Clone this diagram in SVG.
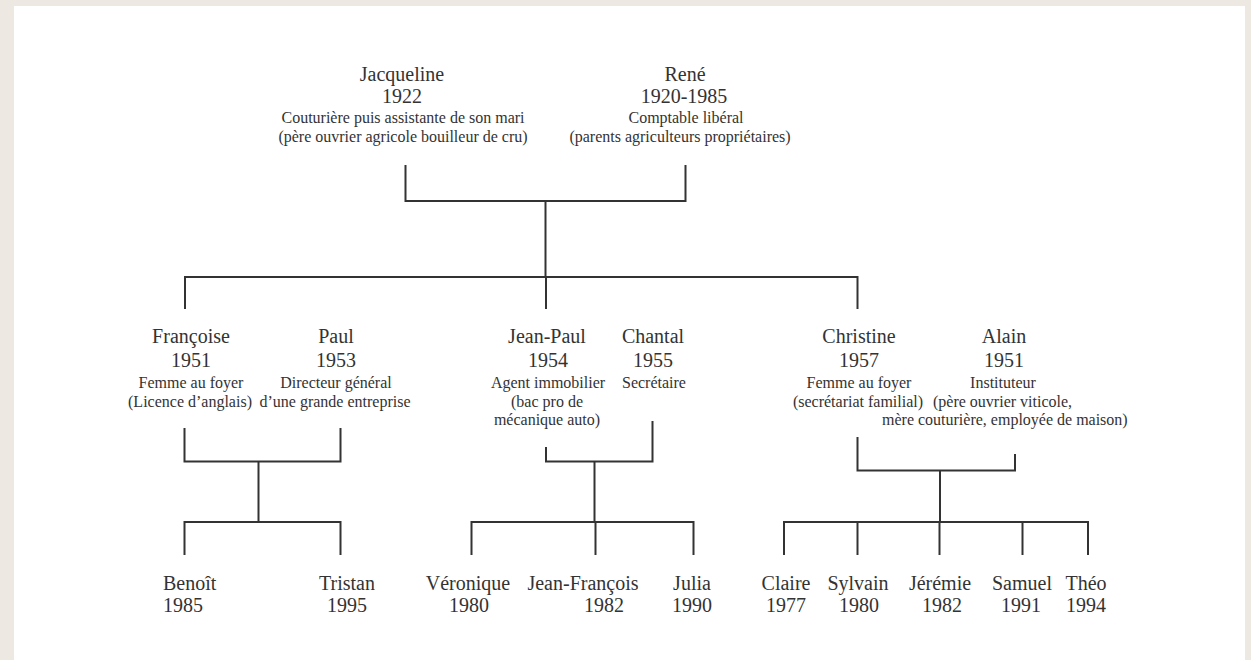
<svg xmlns="http://www.w3.org/2000/svg" width="1251" height="660" viewBox="0 0 1251 660">
<style>
.n{font-family:"Liberation Serif","Times New Roman",serif;font-size:20px;fill:#333;text-anchor:middle}
.s{font-family:"Liberation Serif","Times New Roman",serif;font-size:16px;fill:#333;text-anchor:middle}
.st{text-anchor:start}
.c path{fill:none;stroke:#333;stroke-width:2}
</style>
<rect x="0" y="0" width="1251" height="660" fill="#ede9e2"/>
<rect x="14" y="6" width="1231" height="654" fill="#ffffff"/>
<g class="c" id="connectors">
<path d="M405.5,165 V201 H685.5 V165"/>
<path d="M545.5,201 V277"/>
<path d="M185,277 H857.5"/>
<path d="M185,276 V309"/>
<path d="M546,277 V309"/>
<path d="M857.5,276 V309"/>
<path d="M184.5,428 V461.5 H340.5 V428"/>
<path d="M258.5,461.5 V522"/>
<path d="M184.5,555 V522 H340.5 V555"/>
<path d="M546,447 V461.5 H652.5 V421"/>
<path d="M594.5,461.5 V522"/>
<path d="M471.5,555 V522 H693.5 V555"/>
<path d="M595.5,522 V555"/>
<path d="M857.5,437 V470.5 H1015 V454"/>
<path d="M940,470.5 V522"/>
<path d="M784,555 V522 H1088 V555"/>
<path d="M857.5,522 V555"/>
<path d="M939.5,522 V555"/>
<path d="M1022.5,522 V555"/>
</g>
<g id="jacqueline">
<text class="n" x="402" y="81">Jacqueline</text>
<text class="n" x="402" y="103">1922</text>
<text class="s" x="403" y="123">Couturière puis assistante de son mari</text>
<text class="s" x="403" y="142">(père ouvrier agricole bouilleur de cru)</text>
</g>
<g id="rene">
<text class="n" x="685" y="81">René</text>
<text class="n" x="684" y="103">1920-1985</text>
<text class="s" x="686" y="123">Comptable libéral</text>
<text class="s" x="680" y="142">(parents agriculteurs propriétaires)</text>
</g>
<g id="francoise">
<text class="n" x="191" y="343">Françoise</text>
<text class="n" x="191" y="367">1951</text>
<text class="s" x="191" y="388">Femme au foyer</text>
<text class="s" x="190" y="407">(Licence d’anglais)</text>
</g>
<g id="paul">
<text class="n" x="336" y="343">Paul</text>
<text class="n" x="336" y="367">1953</text>
<text class="s" x="336" y="388">Directeur général</text>
<text class="s" x="335" y="407">d’une grande entreprise</text>
</g>
<g id="jeanpaul">
<text class="n" x="547" y="343">Jean-Paul</text>
<text class="n" x="548" y="367">1954</text>
<text class="s" x="548" y="388">Agent immobilier</text>
<text class="s" x="547" y="407">(bac pro de</text>
<text class="s" x="547" y="425">mécanique auto)</text>
</g>
<g id="chantal">
<text class="n" x="653" y="343">Chantal</text>
<text class="n" x="653" y="367">1955</text>
<text class="s" x="654" y="388">Secrétaire</text>
</g>
<g id="christine">
<text class="n" x="859" y="343">Christine</text>
<text class="n" x="859" y="367">1957</text>
<text class="s" x="859" y="388">Femme au foyer</text>
<text class="s" x="858" y="407">(secrétariat familial)</text>
</g>
<g id="alain">
<text class="n" x="1004" y="343">Alain</text>
<text class="n" x="1004" y="367">1951</text>
<text class="s" x="1003" y="388">Instituteur</text>
<text class="s st" x="933" y="407">(père ouvrier viticole,</text>
<text class="s st" x="882" y="425">mère couturière, employée de maison)</text>
</g>
<g id="benoit">
<text class="n st" x="163" y="590">Benoît</text>
<text class="n st" x="163" y="612">1985</text>
</g>
<g id="tristan">
<text class="n" x="347" y="590">Tristan</text>
<text class="n" x="347" y="612">1995</text>
</g>
<g id="veronique">
<text class="n" x="468" y="590">Véronique</text>
<text class="n" x="469" y="612">1980</text>
</g>
<g id="jeanfrancois">
<text class="n" x="583" y="590">Jean-François</text>
<text class="n" x="604" y="612">1982</text>
</g>
<g id="julia">
<text class="n" x="692" y="590">Julia</text>
<text class="n" x="692" y="612">1990</text>
</g>
<g id="claire">
<text class="n" x="786" y="590">Claire</text>
<text class="n" x="786" y="612">1977</text>
</g>
<g id="sylvain">
<text class="n" x="858" y="590">Sylvain</text>
<text class="n" x="859" y="612">1980</text>
</g>
<g id="jeremie">
<text class="n" x="940" y="590">Jérémie</text>
<text class="n" x="942" y="612">1982</text>
</g>
<g id="samuel">
<text class="n" x="1022" y="590">Samuel</text>
<text class="n" x="1021" y="612">1991</text>
</g>
<g id="theo">
<text class="n" x="1086" y="590">Théo</text>
<text class="n" x="1086" y="612">1994</text>
</g>
</svg>
